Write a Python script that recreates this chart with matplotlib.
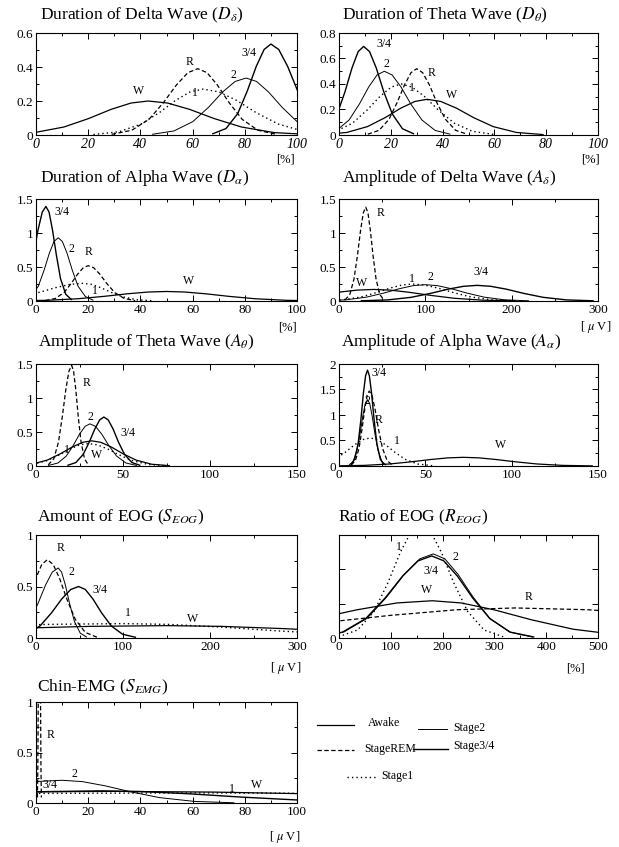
import matplotlib
matplotlib.use('Agg')
import matplotlib.pyplot as plt
from matplotlib.ticker import AutoMinorLocator, NullLocator
from matplotlib.lines import Line2D

plt.rcParams['font.family'] = ['Liberation Serif', 'DejaVu Serif']
plt.rcParams['mathtext.fontset'] = 'stix'

# ---------------- data ----------------
# Duration of Delta Wave
dd_W_x = [-14, -0.7, 10.7, 20.2, 28.8, 36.4, 43, 50.4, 58.8, 68.2, 78.7, 91.3, 106]
dd_W_y = [0.002, 0.014, 0.047, 0.097, 0.151, 0.188, 0.2, 0.188, 0.151, 0.097, 0.047, 0.014, 0.002]
dd_R_x = [29, 36.7, 43.3, 48.8, 53.8, 58.2, 62, 65.5, 69.5, 74, 79, 85, 92]
dd_R_y = [0.004, 0.028, 0.092, 0.19, 0.294, 0.367, 0.39, 0.367, 0.294, 0.19, 0.092, 0.028, 0.004]
dd_1_x = [22, 31.8, 40.2, 47.2, 53.5, 59.1, 64, 70, 76.8, 84.4, 92.9, 103.1, 115]
dd_1_y = [0.003, 0.019, 0.064, 0.131, 0.204, 0.254, 0.27, 0.254, 0.204, 0.131, 0.064, 0.019, 0.003]
dd_2_x = [44.5, 52.9, 60.1, 66.1, 71.5, 76.3, 80.5, 84.5, 89.1, 94.3, 100, 107, 115]
dd_2_y = [0.004, 0.024, 0.079, 0.163, 0.253, 0.315, 0.335, 0.315, 0.253, 0.163, 0.079, 0.024, 0.004]
dd_34_x = [67.5, 72.8, 77.3, 81, 84.4, 87.4, 90, 93, 96.4, 100.2, 104.5, 109.6, 115.5]
dd_34_y = [0.006, 0.038, 0.126, 0.261, 0.404, 0.503, 0.535, 0.503, 0.404, 0.261, 0.126, 0.038, 0.006]

# Duration of Theta Wave
td_W_x = [-6.5, 3, 11, 17.8, 23.9, 29.3, 34, 39.3, 45.3, 52, 59.5, 68.5, 79]
td_W_y = [0.003, 0.02, 0.066, 0.136, 0.211, 0.263, 0.28, 0.263, 0.211, 0.136, 0.066, 0.02, 0.003]
td_R_x = [11.1, 15.5, 19.3, 22.4, 25.3, 27.8, 30, 32.3, 34.9, 37.8, 41.1, 45, 49.5]
td_R_y = [0.006, 0.037, 0.123, 0.253, 0.393, 0.489, 0.52, 0.489, 0.393, 0.253, 0.123, 0.037, 0.006]
td_1_x = [-9, -1.3, 5.3, 10.8, 15.8, 20.2, 24, 28.2, 33, 38.4, 44.4, 51.6, 60]
td_1_y = [0.004, 0.028, 0.094, 0.195, 0.302, 0.376, 0.4, 0.376, 0.302, 0.195, 0.094, 0.028, 0.004]
td_2_x = [-6.5, -0.9, 3.9, 7.9, 11.5, 14.7, 17.5, 20.5, 23.9, 27.7, 32, 37.1, 43]
td_2_y = [0.006, 0.036, 0.118, 0.244, 0.378, 0.471, 0.5, 0.471, 0.378, 0.244, 0.118, 0.036, 0.006]
td_34_x = [-8.5, -4.3, -0.7, 2.3, 5, 7.4, 9.5, 11.8, 14.4, 17.3, 20.6, 24.5, 29]
td_34_y = [0.008, 0.049, 0.164, 0.338, 0.525, 0.654, 0.695, 0.654, 0.525, 0.338, 0.164, 0.049, 0.008]

# Duration of Alpha Wave
ad_W_x = [-10, 4, 16, 26, 35, 43, 50, 57, 65, 74, 84, 96, 110]
ad_W_y = [0.002, 0.01, 0.033, 0.068, 0.106, 0.132, 0.14, 0.132, 0.106, 0.068, 0.033, 0.01, 0.002]
ad_R_x = [3.5, 7.4, 10.7, 13.4, 15.9, 18.1, 20, 22.1, 24.5, 27.2, 30.2, 33.8, 38]
ad_R_y = [0.006, 0.037, 0.123, 0.253, 0.393, 0.489, 0.52, 0.489, 0.393, 0.253, 0.123, 0.037, 0.006]
ad_1_x = [-24, -14.2, -5.8, 1.2, 7.5, 13.1, 18, 21.2, 24.8, 28.8, 33.3, 38.7, 45]
ad_1_y = [0.003, 0.018, 0.061, 0.127, 0.196, 0.245, 0.26, 0.245, 0.196, 0.127, 0.061, 0.018, 0.003]
ad_2_x = [-5, -1.9, 0.9, 3.1, 5.1, 6.9, 8.5, 10.1, 11.9, 13.9, 16.1, 18.9, 22]
ad_2_y = [0.01, 0.066, 0.219, 0.453, 0.702, 0.875, 0.93, 0.875, 0.702, 0.453, 0.219, 0.066, 0.01]
ad_34_x = [-8.2, -5.4, -3, -1, 0.8, 2.4, 3.8, 5, 6.3, 7.8, 9.4, 11.4, 13.7]
ad_34_y = [0.015, 0.099, 0.328, 0.677, 1.049, 1.308, 1.39, 1.308, 1.049, 0.677, 0.328, 0.099, 0.015]

# Amplitude of Delta Wave
da_W_x = [-125, -86.5, -53.5, -26, -1.3, 20.8, 40, 59.3, 81.3, 106, 133.5, 166.5, 205]
da_W_y = [0.002, 0.012, 0.04, 0.083, 0.128, 0.16, 0.17, 0.16, 0.128, 0.083, 0.04, 0.012, 0.002]
da_R_x = [7, 12.6, 17.4, 21.4, 25, 28.2, 31, 33.5, 36.3, 39.4, 42.9, 47.1, 52]
da_R_y = [0.015, 0.098, 0.326, 0.672, 1.042, 1.299, 1.38, 1.299, 1.042, 0.672, 0.326, 0.098, 0.015]
da_1_x = [-20, 4.5, 25.5, 43, 58.8, 72.8, 85, 99, 115, 133, 153, 177, 205]
da_1_y = [0.003, 0.018, 0.059, 0.122, 0.189, 0.235, 0.25, 0.235, 0.189, 0.122, 0.059, 0.018, 0.003]
da_2_x = [-20, 8, 32, 52, 70, 86, 100, 114, 130, 148, 168, 192, 220]
da_2_y = [0.003, 0.017, 0.057, 0.117, 0.181, 0.226, 0.24, 0.226, 0.181, 0.117, 0.057, 0.017, 0.003]
da_34_x = [25, 56.5, 83.5, 106, 126.3, 144.3, 160, 175.8, 193.8, 214, 236.5, 263.5, 295]
da_34_y = [0.003, 0.016, 0.054, 0.112, 0.174, 0.216, 0.23, 0.216, 0.174, 0.112, 0.054, 0.016, 0.003]

# Amplitude of Theta Wave
ta_W_x = [-13, -2.5, 6.5, 14, 20.8, 26.8, 32, 37.3, 43.3, 50, 57.5, 66.5, 77]
ta_W_y = [0.004, 0.026, 0.087, 0.18, 0.279, 0.348, 0.37, 0.348, 0.279, 0.18, 0.087, 0.026, 0.004]
ta_R_x = [7, 10.2, 12.9, 15.1, 17.1, 18.9, 20.5, 21.6, 22.9, 24.3, 25.9, 27.9, 30.1]
ta_R_y = [0.016, 0.105, 0.349, 0.721, 1.117, 1.393, 1.48, 1.393, 1.117, 0.721, 0.349, 0.105, 0.016]
ta_1_x = [-12, -2.2, 6.2, 13.2, 19.5, 25.1, 30, 35.3, 41.3, 48, 55.5, 64.5, 75]
ta_1_y = [0.004, 0.023, 0.078, 0.161, 0.249, 0.311, 0.33, 0.311, 0.249, 0.161, 0.078, 0.023, 0.004]
ta_2_x = [7, 12.6, 17.4, 21.4, 25, 28.2, 31, 34.2, 37.8, 41.8, 46.3, 51.7, 58]
ta_2_y = [0.007, 0.044, 0.146, 0.302, 0.468, 0.583, 0.62, 0.583, 0.468, 0.302, 0.146, 0.044, 0.007]
ta_34_x = [18, 22.9, 27.1, 30.6, 33.8, 36.6, 39, 41.5, 44.3, 47.4, 50.9, 55.1, 60]
ta_34_y = [0.008, 0.051, 0.17, 0.351, 0.544, 0.678, 0.72, 0.678, 0.544, 0.351, 0.17, 0.051, 0.008]

# Amplitude of Alpha Wave
aa_W_x = [-3, 14.5, 29.5, 42, 53.3, 63.3, 72, 80.8, 90.8, 102, 114.5, 129.5, 147]
aa_W_y = [0.002, 0.012, 0.04, 0.083, 0.128, 0.16, 0.17, 0.16, 0.128, 0.083, 0.04, 0.012, 0.002]
aa_R_x = [7, 9.5, 11.6, 13.3, 14.9, 16.3, 17.5, 19.1, 20.9, 22.9, 25.2, 27.9, 31]
aa_R_y = [0.016, 0.104, 0.347, 0.716, 1.11, 1.383, 1.47, 1.383, 1.11, 0.716, 0.347, 0.104, 0.016]
aa_1_x = [-18, -9.6, -2.4, 3.6, 9, 13.8, 18, 22.2, 27, 32.4, 38.4, 45.6, 54]
aa_1_y = [0.006, 0.039, 0.13, 0.268, 0.415, 0.518, 0.55, 0.518, 0.415, 0.268, 0.13, 0.039, 0.006]
aa_2_x = [5.7, 8.2, 10.4, 12.2, 13.8, 15.2, 16.5, 17.8, 19.2, 20.8, 22.6, 24.8, 27.3]
aa_2_y = [0.014, 0.092, 0.307, 0.633, 0.982, 1.223, 1.3, 1.223, 0.982, 0.633, 0.307, 0.092, 0.014]
aa_34_x = [6.9, 9.1, 11.1, 12.7, 14.1, 15.4, 16.5, 17.6, 18.9, 20.3, 21.9, 23.9, 26.1]
aa_34_y = [0.021, 0.133, 0.444, 0.916, 1.419, 1.769, 1.88, 1.769, 1.419, 0.916, 0.444, 0.133, 0.021]

# Amount of EOG
se_W_x = [-600, -425, -275, -150, -37.5, 62.5, 150, 213, 285, 366, 456, 564, 690]
se_W_y = [0.001, 0.009, 0.028, 0.058, 0.091, 0.113, 0.12, 0.113, 0.091, 0.058, 0.028, 0.009, 0.001]
se_R_x = [-41, -28.4, -17.6, -8.6, -0.5, 6.7, 13, 19.7, 27.3, 35.8, 45.3, 56.7, 70]
se_R_y = [0.008, 0.054, 0.179, 0.37, 0.574, 0.715, 0.76, 0.715, 0.574, 0.37, 0.179, 0.054, 0.008]
se_1_x = [-650, -475, -325, -200, -87.5, 12.5, 100, 152.5, 212.5, 280, 355, 445, 550]
se_1_y = [0.002, 0.01, 0.033, 0.068, 0.106, 0.132, 0.14, 0.132, 0.106, 0.068, 0.033, 0.01, 0.002]
se_2_x = [-33, -19.4, -7.7, 2.1, 10.9, 18.7, 25.5, 29.4, 33.8, 38.7, 44.2, 50.8, 58.5]
se_2_y = [0.007, 0.048, 0.16, 0.331, 0.513, 0.64, 0.68, 0.64, 0.513, 0.331, 0.16, 0.048, 0.007]
se_34_x = [-29, -10.8, 4.8, 17.8, 29.5, 39.9, 49, 56.7, 65.5, 75.4, 86.4, 99.6, 115]
se_34_y = [0.006, 0.036, 0.118, 0.244, 0.378, 0.471, 0.5, 0.471, 0.378, 0.244, 0.118, 0.036, 0.006]

# Ratio of EOG (values in 1e-3 units)
re_W_x = [-405, -268.5, -151.5, -54, 33.8, 111.8, 180, 236, 300, 372, 452, 548, 660]
re_W_y = [0.024, 0.154, 0.512, 1.057, 1.638, 2.042, 2.17, 2.042, 1.638, 1.057, 0.512, 0.154, 0.024]
re_R_x = [-620, -396, -204, -44, 100, 228, 340, 480, 640, 820, 1020, 1260, 1540]
re_R_y = [0.019, 0.124, 0.413, 0.852, 1.321, 1.647, 1.75, 1.647, 1.321, 0.852, 0.413, 0.124, 0.019]
re_1_x = [-1, 36.1, 67.9, 94.4, 118.3, 139.5, 158, 176.6, 197.8, 221.6, 248.1, 279.9, 317]
re_1_y = [0.073, 0.469, 1.558, 3.214, 4.983, 6.211, 6.6, 6.211, 4.983, 3.214, 1.558, 0.469, 0.073]
re_2_x = [-43, 9.5, 54.5, 92, 125.8, 155.8, 182, 204.4, 230, 258.8, 290.8, 329.2, 374]
re_2_y = [0.054, 0.348, 1.156, 2.386, 3.7, 4.611, 4.9, 4.611, 3.7, 2.386, 1.156, 0.348, 0.054]
re_34_x = [-46, 6.5, 51.5, 89, 122.8, 152.8, 179, 202.1, 228.5, 258.2, 291.2, 330.8, 377]
re_34_y = [0.053, 0.339, 1.128, 2.328, 3.609, 4.498, 4.78, 4.498, 3.609, 2.328, 1.128, 0.339, 0.053]

# Chin-EMG
ce_W_x = [-420, -315, -225, -150, -82.5, -22.5, 30, 68.5, 112.5, 162, 217, 283, 360]
ce_W_y = [0.001, 0.008, 0.027, 0.056, 0.087, 0.108, 0.115, 0.108, 0.087, 0.056, 0.027, 0.008, 0.001]
ce_R_x = [0.55, 0.7, 0.9, 1.0, 1.1, 1.2, 1.3, 1.4, 1.5, 1.6, 1.7, 1.9, 2.05]
ce_R_y = [0.055, 0.355, 1.18, 2.435, 3.775, 4.705, 5.0, 4.705, 3.775, 2.435, 1.18, 0.355, 0.055]
ce_1_x = [-540, -400, -280, -180, -90, -10, 60, 130, 210, 300, 400, 520, 660]
ce_1_y = [0.001, 0.007, 0.024, 0.049, 0.076, 0.094, 0.1, 0.094, 0.076, 0.049, 0.024, 0.007, 0.001]
ce_2_x = [-80, -59, -41, -26, -12.5, -0.5, 10, 17.7, 26.5, 36.4, 47.4, 60.6, 76]
ce_2_y = [0.002, 0.016, 0.053, 0.11, 0.17, 0.212, 0.225, 0.212, 0.17, 0.11, 0.053, 0.016, 0.002]
ce_34_x = [-155, -113, -77, -47, -20, 4, 25, 40.8, 58.8, 79, 101.5, 128.5, 160]
ce_34_y = [0.001, 0.009, 0.028, 0.058, 0.091, 0.113, 0.12, 0.113, 0.091, 0.058, 0.028, 0.009, 0.001]

# Titles, tick values and curve labels
titles = [r'Duration of Delta Wave ($D_\delta$)', r'Duration of Theta Wave ($D_\theta$)',
          r'Duration of Alpha Wave ($D_\alpha$)', r'Amplitude of Delta Wave ($A_\delta$)',
          r'Amplitude of Theta Wave ($A_\theta$)', r'Amplitude of Alpha Wave ($A_\alpha$)',
          r'Amount of EOG ($S_{EOG}$)', r'Ratio of EOG ($R_{EOG}$)', r'Chin-EMG ($S_{EMG}$)']
xticks_pct = [0, 20, 40, 60, 80, 100]
xticks_300 = [0, 100, 200, 300]
xticks_150 = [0, 50, 100, 150]
xticks_500 = [0, 100, 200, 300, 400, 500]
units = ['[%]', '[%]', '[%]', r'[ $\mu$ V]', '', '', r'[ $\mu$ V]', '[%]', r'[ $\mu$ V]']
stage_names = ['Awake', 'Stage2', 'StageREM', 'Stage3/4', 'Stage1']

# curve label positions (data coords) per panel: W, R, 1, 2, 3/4
lab_dd = [(39.3, 0.26), (59, 0.43), (61, 0.25), (75.7, 0.355), (81.4, 0.48)]
lab_td = [(43.3, 0.31), (35.7, 0.485), (28, 0.37), (18.5, 0.56), (17.3, 0.71)]
lab_ad = [(58.4, 0.3), (20, 0.72), (22.6, 0.14), (13.7, 0.77), (9.8, 1.31)]
lab_da = [(26.4, 0.27), (47.7, 1.29), (84.5, 0.32), (105.8, 0.35), (164, 0.42)]
lab_ta = [(34.9, 0.16), (29, 1.22), (17.6, 0.23), (31.4, 0.72), (53, 0.48)]
lab_aa = [(93.6, 0.42), (22.9, 0.91), (33.5, 0.49), (16.5, 1.27), (22.9, 1.82)]
lab_se = [(180, 0.18), (28, 0.87), (106, 0.24), (41, 0.645), (73.6, 0.47)]
lab_re = [(169, 2.8), (365, 2.4), (116, 5.3), (225, 4.7), (177, 3.9)]
lab_ce = [(84.6, 0.18), (5.4, 0.67), (75.2, 0.14), (14.7, 0.29), (5.4, 0.18)]

# ---------------- figure ----------------
W_PX, H_PX = 619, 847
fig = plt.figure(figsize=(W_PX / 100, H_PX / 100), dpi=100)

def rect(l, t, r, b):
    return [l / W_PX, 1 - b / H_PX, (r - l) / W_PX, (b - t) / H_PX]

def fpt(x, y):
    return x / W_PX, 1 - y / H_PX

STYLE = {
    'W': dict(color='black', lw=0.9, ls='-'),
    'R': dict(color='black', lw=0.9, ls=(0, (3.5, 2))),
    '1': dict(color='black', lw=1.0, ls=(0, (1, 2.2))),
    '2': dict(color='black', lw=0.7, ls='-'),
    '3/4': dict(color='black', lw=1.0, ls='-'),
}
KEYS = ['W', 'R', '1', '2', '3/4']

LX, LR = 36, 297
RX, RR = 339, 598
rows = [(33, 135), (199, 301), (364, 466), (535, 638), (702, 803)]

panels = [
    dict(box=(LX, LR, 0), curves=[(dd_W_x, dd_W_y), (dd_R_x, dd_R_y), (dd_1_x, dd_1_y), (dd_2_x, dd_2_y), (dd_34_x, dd_34_y)],
         xlim=(0, 100), ylim=(0, 0.6), xt=xticks_pct, yt=[0, 0.2, 0.4, 0.6], ytl=['0', '0.2', '0.4', '0.6'],
         ital=True, labs=lab_dd, title_x=40, unit_pos=(285, 160)),
    dict(box=(RX, RR, 0), curves=[(td_W_x, td_W_y), (td_R_x, td_R_y), (td_1_x, td_1_y), (td_2_x, td_2_y), (td_34_x, td_34_y)],
         xlim=(0, 100), ylim=(0, 0.8), xt=xticks_pct, yt=[0, 0.2, 0.4, 0.6, 0.8], ytl=['0', '0.2', '0.4', '0.6', '0.8'],
         ital=True, labs=lab_td, title_x=342, unit_pos=(590, 160)),
    dict(box=(LX, LR, 1), curves=[(ad_W_x, ad_W_y), (ad_R_x, ad_R_y), (ad_1_x, ad_1_y), (ad_2_x, ad_2_y), (ad_34_x, ad_34_y)],
         xlim=(0, 100), ylim=(0, 1.5), xt=xticks_pct, yt=[0, 0.5, 1, 1.5], ytl=['0', '0.5', '1', '1.5'],
         ital=False, labs=lab_ad, title_x=40, unit_pos=(287, 327)),
    dict(box=(RX, RR, 1), curves=[(da_W_x, da_W_y), (da_R_x, da_R_y), (da_1_x, da_1_y), (da_2_x, da_2_y), (da_34_x, da_34_y)],
         xlim=(0, 300), ylim=(0, 1.5), xt=xticks_300, yt=[0, 0.5, 1, 1.5], ytl=['0', '0.5', '1', '1.5'],
         ital=False, labs=lab_da, title_x=342, unit_pos=(596, 327)),
    dict(box=(LX, LR, 2), curves=[(ta_W_x, ta_W_y), (ta_R_x, ta_R_y), (ta_1_x, ta_1_y), (ta_2_x, ta_2_y), (ta_34_x, ta_34_y)],
         xlim=(0, 150), ylim=(0, 1.5), xt=xticks_150, yt=[0, 0.5, 1, 1.5], ytl=['0', '0.5', '1', '1.5'],
         ital=False, labs=lab_ta, title_x=38, unit_pos=None),
    dict(box=(RX, RR, 2), curves=[(aa_W_x, aa_W_y), (aa_R_x, aa_R_y), (aa_1_x, aa_1_y), (aa_2_x, aa_2_y), (aa_34_x, aa_34_y)],
         xlim=(0, 150), ylim=(0, 2), xt=xticks_150, yt=[0, 0.5, 1, 1.5, 2], ytl=['0', '0.5', '1', '1.5', '2'],
         ital=False, labs=lab_aa, title_x=341, unit_pos=None),
    dict(box=(LX, LR, 3), curves=[(se_W_x, se_W_y), (se_R_x, se_R_y), (se_1_x, se_1_y), (se_2_x, se_2_y), (se_34_x, se_34_y)],
         xlim=(0, 300), ylim=(0, 1), xt=xticks_300, yt=[0, 0.5, 1], ytl=['0', '0.5', '1'],
         ital=False, labs=lab_se, title_x=37, unit_pos=(286, 668)),
    dict(box=(RX, RR, 3), curves=[(re_W_x, re_W_y), (re_R_x, re_R_y), (re_1_x, re_1_y), (re_2_x, re_2_y), (re_34_x, re_34_y)],
         xlim=(0, 500), ylim=(0, 6), xt=xticks_500, yt=[0, 2, 4], ytl=['0', '', ''],
         ital=False, labs=lab_re, title_x=338, unit_pos=(575, 668)),
    dict(box=(LX, LR, 4), curves=[(ce_W_x, ce_W_y), (ce_R_x, ce_R_y), (ce_1_x, ce_1_y), (ce_2_x, ce_2_y), (ce_34_x, ce_34_y)],
         xlim=(0, 100), ylim=(0, 1), xt=xticks_pct, yt=[0, 0.5, 1], ytl=['0', '0.5', '1'],
         ital=False, labs=lab_ce, title_x=37, unit_pos=(285, 837)),
]
title_y = [15, 178, 342, 517, 687]

for i, p in enumerate(panels):
    l, r, row = p['box']
    t, b = rows[row]
    ax = fig.add_axes(rect(l, t, r, b))
    for k, (xs, ys) in zip(KEYS, p['curves']):
        ax.plot(xs, ys, **STYLE[k], solid_capstyle='butt', dash_capstyle='butt')
    ax.set_xlim(*p['xlim'])
    ax.set_ylim(*p['ylim'])
    ax.set_xticks(p['xt'])
    ax.set_yticks(p['yt'])
    ax.set_yticklabels(p['ytl'])
    ax.xaxis.set_minor_locator(AutoMinorLocator(2))
    if i == 7:
        ax.yaxis.set_minor_locator(NullLocator())
    else:
        ax.yaxis.set_minor_locator(AutoMinorLocator(2))
    ax.tick_params(which='both', direction='in', top=True, right=True, width=0.7)
    ax.tick_params(which='major', length=4, labelsize=9.5, pad=2)
    ax.tick_params(which='minor', length=2)
    if p['ital']:
        for lbl in ax.get_xticklabels():
            lbl.set_style('italic')
            lbl.set_fontsize(10)
    for s in ax.spines.values():
        s.set_linewidth(0.8)
    for k, (lx, ly) in zip(KEYS, p['labs']):
        ax.text(lx, ly, k, fontsize=8.5, ha='center', va='center')
    fx, fy = fpt(p['title_x'], title_y[row])
    fig.text(fx, fy, titles[i], fontsize=12.5, ha='left', va='center')
    if p['unit_pos'] is not None:
        ux, uy = fpt(*p['unit_pos'])
        fig.text(ux, uy, units[i], fontsize=9, ha='center', va='center')

# ---------------- legend ----------------
leg_rows = [
    ('W', (317, 354, 725), (368, 723)),
    ('2', (418, 447, 729), (453, 728)),
    ('R', (317, 354, 750), (364, 749)),
    ('3/4', (413, 448, 749), (453, 746)),
    ('1', (347, 378, 777), (381, 776)),
]
for (k, (x0, x1, ly), (tx, ty)), name in zip(leg_rows, stage_names):
    a0 = fpt(x0, ly)
    a1 = fpt(x1, ly)
    fig.add_artist(Line2D([a0[0], a1[0]], [a0[1], a1[1]], transform=fig.transFigure, **STYLE[k]))
    t0 = fpt(tx, ty)
    fig.text(t0[0], t0[1], name, fontsize=8.5, ha='left', va='center')

fig.savefig('out.png', dpi=100)
